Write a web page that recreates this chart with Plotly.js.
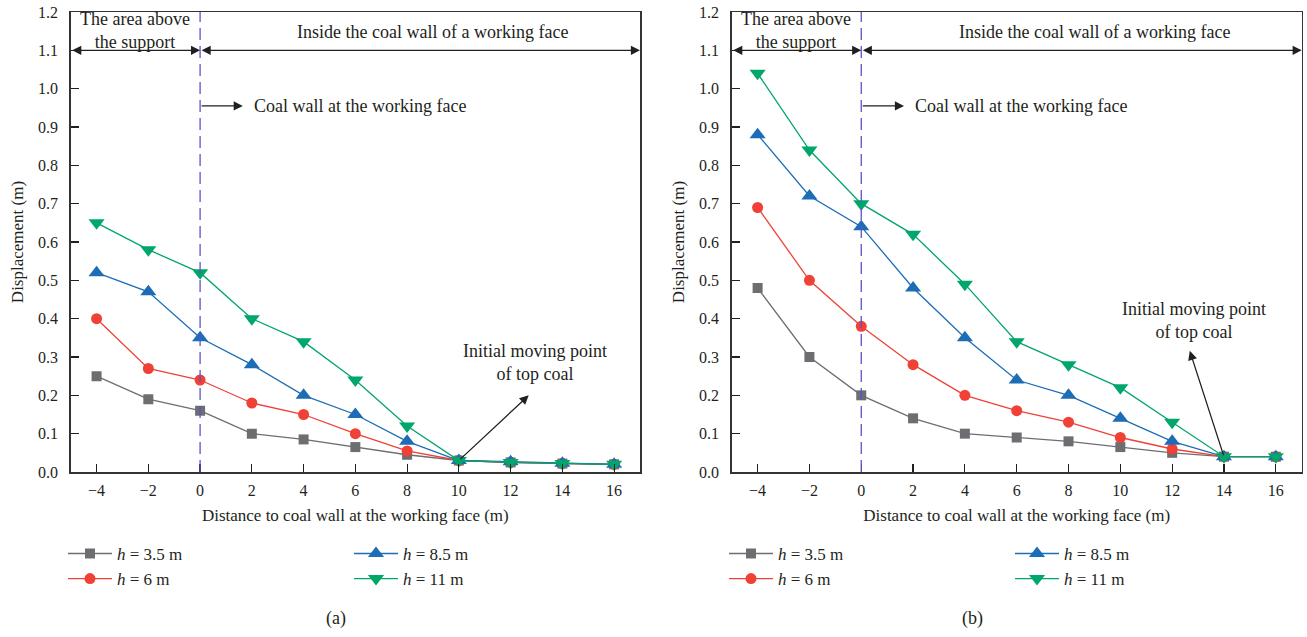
<!DOCTYPE html>
<html>
<head>
<meta charset="utf-8">
<script src="https://cdn.plot.ly/plotly-3.0.1.min.js"></script>
<style>html,body{margin:0;padding:0;background:#fff;}#chart{width:1307px;height:637px;}</style>
</head>
<body>
<div id="chart"></div>
<script>
// ---- data ----
const distance = [-4, -2, 0, 2, 4, 6, 8, 10, 12, 14, 16];
const seriesNames = ['<i>h</i> = 3.5 m', '<i>h</i> = 6 m', '<i>h</i> = 8.5 m', '<i>h</i> = 11 m'];
// panel (a)
const a_h35 = [0.25, 0.19, 0.16, 0.10, 0.085, 0.065, 0.045, 0.03, 0.025, 0.022, 0.02];
const a_h6  = [0.40, 0.27, 0.24, 0.18, 0.15, 0.10, 0.055, 0.03, 0.025, 0.022, 0.02];
const a_h85 = [0.52, 0.47, 0.35, 0.28, 0.20, 0.15, 0.08, 0.03, 0.027, 0.023, 0.02];
const a_h11 = [0.65, 0.58, 0.52, 0.40, 0.34, 0.24, 0.12, 0.03, 0.025, 0.022, 0.02];
// panel (b)
const b_h35 = [0.48, 0.30, 0.20, 0.14, 0.10, 0.09, 0.08, 0.065, 0.05, 0.04, 0.04];
const b_h6  = [0.69, 0.50, 0.38, 0.28, 0.20, 0.16, 0.13, 0.09, 0.06, 0.04, 0.04];
const b_h85 = [0.88, 0.72, 0.64, 0.48, 0.35, 0.24, 0.20, 0.14, 0.08, 0.04, 0.04];
const b_h11 = [1.04, 0.84, 0.70, 0.62, 0.49, 0.34, 0.28, 0.22, 0.13, 0.04, 0.04];
const xTicks = [-4, -2, 0, 2, 4, 6, 8, 10, 12, 14, 16];
const yTicks = [0, 0.1, 0.2, 0.3, 0.4, 0.5, 0.6, 0.7, 0.8, 0.9, 1.0, 1.1, 1.2];
const panelLabels = ['(a)', '(b)'];
const regionLabels = ['The area above<br>the support', 'Inside the coal wall of a working face'];
const wallLabel = 'Coal wall at the working face';
const pointLabel = 'Initial moving point<br>of top coal';

// ---- styles ----
const FONT = 'Liberation Serif, Times New Roman, serif';
const TXT = '#231f20';
const colors = ['#6d6e71', '#ef4136', '#1c6db6', '#00a66a'];
const symbols = ['square', 'circle', 'triangle-up', 'triangle-down'];
const sizes = [10, 11, 14, 14];

const panels = [
  {ys: [a_h35, a_h6, a_h85, a_h11], xa: 'x', ya: 'y', legs: ['legend', 'legend2']},
  {ys: [b_h35, b_h6, b_h85, b_h11], xa: 'x2', ya: 'y2', legs: ['legend3', 'legend4']}
];

const traces = [];
panels.forEach(p => {
  p.ys.forEach((yv, i) => {
    traces.push({
      x: distance, y: yv, type: 'scatter', mode: 'lines+markers',
      name: seriesNames[i], xaxis: p.xa, yaxis: p.ya,
      legend: i < 2 ? p.legs[0] : p.legs[1],
      line: {color: colors[i], width: 1.3},
      marker: {symbol: symbols[i], size: sizes[i], color: colors[i]},
      hoverinfo: 'skip'
    });
  });
});

function xaxis(domain, anchor) {
  return {
    domain: domain, anchor: anchor, range: [-5, 17],
    tickmode: 'array', tickvals: xTicks, ticks: 'inside', ticklen: 8, tickwidth: 1.2,
    tickcolor: '#231f20', showline: true, linecolor: '#333333', linewidth: 1.5, mirror: true,
    showgrid: false, zeroline: false, ticklabelstandoff: 3,
    tickfont: {family: FONT, size: 16, color: TXT},
    title: {text: 'Distance to coal wall at the working face (m)', font: {family: FONT, size: 17, color: TXT}, standoff: 11}
  };
}
function yaxis(anchor) {
  return {
    anchor: anchor, range: [0, 1.2], domain: [0, 1],
    tickmode: 'array', tickvals: yTicks, tickformat: '.1f', ticks: 'inside', ticklen: 8, tickwidth: 1.2,
    tickcolor: '#231f20', showline: true, linecolor: '#333333', linewidth: 1.5, mirror: true,
    showgrid: false, zeroline: false, ticklabelstandoff: 8,
    tickfont: {family: FONT, size: 16, color: TXT},
    title: {text: 'Displacement (m)', font: {family: FONT, size: 17, color: TXT}, standoff: 10}
  };
}

const annotations = [];
const shapes = [];
[['x', 'y'], ['x2', 'y2']].forEach((ax, k) => {
  const [xr, yr] = ax;
  // dashed coal wall line
  shapes.push({type: 'line', xref: xr, yref: yr, x0: 0, x1: 0, y0: 0, y1: 1.2,
    line: {color: '#5b52c8', width: 1.3, dash: '12px,6px'}});
  // double arrows at 1.1
  annotations.push({xref: xr, yref: yr, axref: xr, ayref: yr, x: 0, y: 1.1, ax: -5, ay: 1.1,
    text: '', showarrow: true, arrowside: 'end+start', arrowhead: 2, arrowsize: 1.4, arrowwidth: 1.3, arrowcolor: '#231f20', standoff: 0, startstandoff: 0});
  annotations.push({xref: xr, yref: yr, axref: xr, ayref: yr, x: 17, y: 1.1, ax: 0, ay: 1.1,
    text: '', showarrow: true, arrowside: 'end+start', arrowhead: 2, arrowsize: 1.4, arrowwidth: 1.3, arrowcolor: '#231f20', standoff: 0, startstandoff: 0});
  annotations.push({xref: xr, yref: yr, x: -2.5, y: 1.152, text: regionLabels[0], showarrow: false,
    font: {family: FONT, size: 18, color: TXT}, align: 'center'});
  annotations.push({xref: xr, yref: yr, x: 9.0, y: 1.147, text: regionLabels[1], showarrow: false,
    font: {family: FONT, size: 18, color: TXT}});
  // coal wall arrow
  annotations.push({xref: xr, yref: yr, axref: xr, ayref: yr, x: 1.65, y: 0.955, ax: 0, ay: 0.955,
    text: '', showarrow: true, arrowhead: 2, arrowsize: 1.4, arrowwidth: 1.3, arrowcolor: '#231f20', standoff: 0});
  annotations.push({xref: xr, yref: yr, x: 2.0, y: 0.955, xanchor: 'left', text: wallLabel, showarrow: false,
    font: {family: FONT, size: 18, color: TXT}});
});
// initial moving point arrows
annotations.push({xref: 'x', yref: 'y', axref: 'x', ayref: 'y', x: 12.7, y: 0.2, ax: 10, ay: 0.03,
  text: '', showarrow: true, arrowhead: 2, arrowsize: 1.4, arrowwidth: 1.3, arrowcolor: '#231f20', standoff: 0});
annotations.push({xref: 'x', yref: 'y', x: 12.95, y: 0.285, text: pointLabel, showarrow: false,
  font: {family: FONT, size: 18, color: TXT}});
annotations.push({xref: 'x2', yref: 'y2', axref: 'x2', ayref: 'y2', x: 12.68, y: 0.316, ax: 14, ay: 0.04,
  text: '', showarrow: true, arrowhead: 2, arrowsize: 1.4, arrowwidth: 1.3, arrowcolor: '#231f20', standoff: 0});
annotations.push({xref: 'x2', yref: 'y2', x: 12.83, y: 0.395, text: pointLabel, showarrow: false,
  font: {family: FONT, size: 18, color: TXT}});
// panel labels
annotations.push({xref: 'paper', yref: 'paper', x: 324 / 1307, y: (472 - 618) / 460, yanchor: 'middle', text: panelLabels[0], showarrow: false,
  font: {family: FONT, size: 18, color: TXT}});
annotations.push({xref: 'paper', yref: 'paper', x: 985 / 1307, y: (472 - 618) / 460, yanchor: 'middle', text: panelLabels[1], showarrow: false,
  font: {family: FONT, size: 18, color: TXT}});

function leg(xpx) {
  return {x: xpx / 1307, y: -0.139, xanchor: 'left', yanchor: 'top', orientation: 'v',
    font: {family: FONT, size: 17, color: TXT}, bgcolor: 'rgba(0,0,0,0)', borderwidth: 0, itemwidth: 44, tracegroupgap: 0};
}

const layout = {
  width: 1307, height: 637,
  margin: {l: 0, r: 0, t: 12, b: 165},
  paper_bgcolor: '#fff', plot_bgcolor: '#fff',
  font: {family: FONT, color: TXT},
  showlegend: true,
  xaxis: xaxis([70.7 / 1307, 640 / 1307], 'y'),
  yaxis: yaxis('x'),
  xaxis2: xaxis([731.7 / 1307, 1301.7 / 1307], 'y2'),
  yaxis2: yaxis('x2'),
  legend: leg(63),
  legend2: leg(349),
  legend3: leg(724),
  legend4: leg(1010),
  shapes: shapes,
  annotations: annotations
};

Plotly.newPlot('chart', traces, layout, {staticPlot: true, displayModeBar: false});
</script>
</body>
</html>
